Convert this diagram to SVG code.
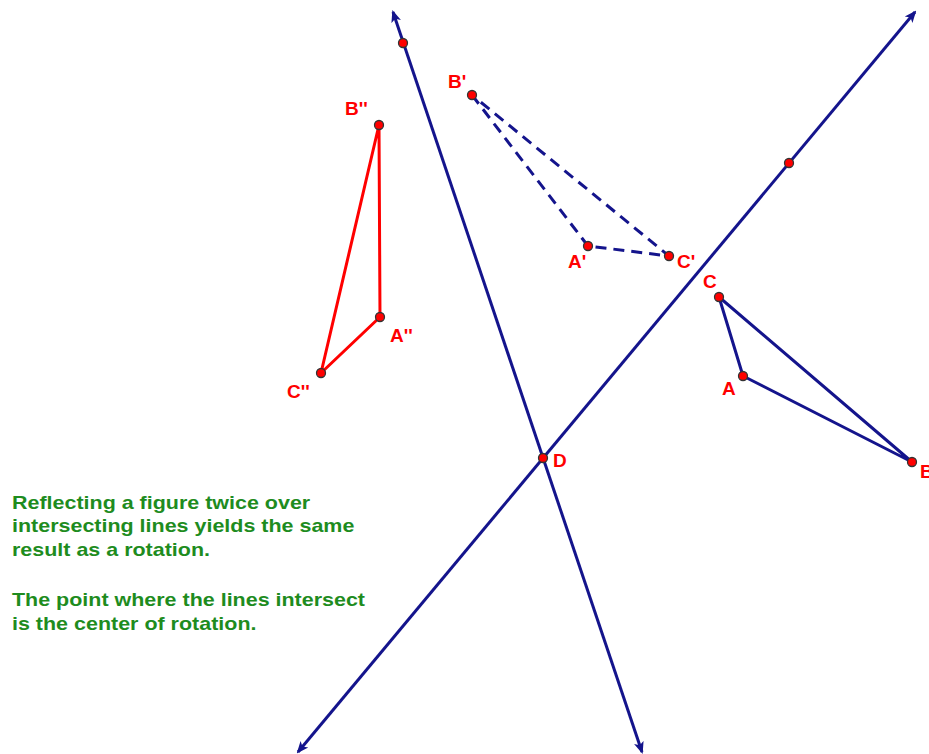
<svg xmlns="http://www.w3.org/2000/svg" width="929" height="754" viewBox="0 0 929 754">
<style>
.ln{stroke:#14148c;stroke-width:3;fill:none;marker-start:url(#ah);marker-end:url(#ah)}
.blue{stroke:#14148c;stroke-width:3;fill:none;stroke-linejoin:round}
.dash{stroke:#14148c;stroke-width:3;fill:none;stroke-dasharray:11 7}
.red{stroke:#ff0000;stroke-width:3;fill:none;stroke-linejoin:round}
.pt{fill:#ff0000;stroke:#333;stroke-width:1.3}
.lb{font-family:"Liberation Sans",Arial,sans-serif;font-weight:bold;font-size:19px;fill:#ff0000}
.note{font-family:"Liberation Sans",Arial,sans-serif;font-weight:bold;font-size:19px;fill:#1e8c1e}
</style>
<defs>
<marker id="ah" viewBox="0 0 12 12" refX="10" refY="6" markerWidth="12" markerHeight="12" markerUnits="userSpaceOnUse" orient="auto-start-reverse">
<path d="M0,1 L12,6 L0,11 L3,6 Z" fill="#14148c"/>
</marker>
</defs>
<rect width="929" height="754" fill="#fff"/>
<g id="connectors">
<line class="ln" x1="642" y1="752" x2="393" y2="12"/>
<line class="ln" x1="298" y1="752" x2="915" y2="12"/>
<polygon class="dash" points="472,95 588,246 669,256"/>
<polygon class="blue" points="719,297 743,376 912,462"/>
<polygon class="red" points="379,125 380,317 321,373"/>
</g>
<g id="P1"><circle class="pt" cx="403" cy="43" r="4.5"/></g>
<g id="P2"><circle class="pt" cx="789" cy="163" r="4.5"/></g>
<g id="D"><circle class="pt" cx="543" cy="458" r="4.5"/><text class="lb" x="553" y="467">D</text></g>
<g id="Bpp"><circle class="pt" cx="379" cy="125" r="4.5"/><text class="lb" x="345" y="115">B''</text></g>
<g id="App"><circle class="pt" cx="380" cy="317" r="4.5"/><text class="lb" x="390" y="342">A''</text></g>
<g id="Cpp"><circle class="pt" cx="321" cy="373" r="4.5"/><text class="lb" x="287" y="398">C''</text></g>
<g id="Bp"><circle class="pt" cx="472" cy="95" r="4.5"/><text class="lb" x="448" y="88">B'</text></g>
<g id="Ap"><circle class="pt" cx="588" cy="246" r="4.5"/><text class="lb" x="568" y="268">A'</text></g>
<g id="Cp"><circle class="pt" cx="669" cy="256" r="4.5"/><text class="lb" x="677" y="268">C'</text></g>
<g id="C"><circle class="pt" cx="719" cy="297" r="4.5"/><text class="lb" x="703" y="288">C</text></g>
<g id="A"><circle class="pt" cx="743" cy="376" r="4.5"/><text class="lb" x="722" y="395">A</text></g>
<g id="B"><circle class="pt" cx="912" cy="462" r="4.5"/><text class="lb" x="920" y="478">B</text></g>
<g id="note" transform="translate(12,0) scale(1.13,1)">
<text class="note" x="0" y="509">Reflecting a figure twice over</text>
<text class="note" x="0" y="532">intersecting lines yields the same</text>
<text class="note" x="0" y="556">result as a rotation.</text>
<text class="note" x="0" y="606">The point where the lines intersect</text>
<text class="note" x="0" y="630">is the center of rotation.</text>
</g>
</svg>
